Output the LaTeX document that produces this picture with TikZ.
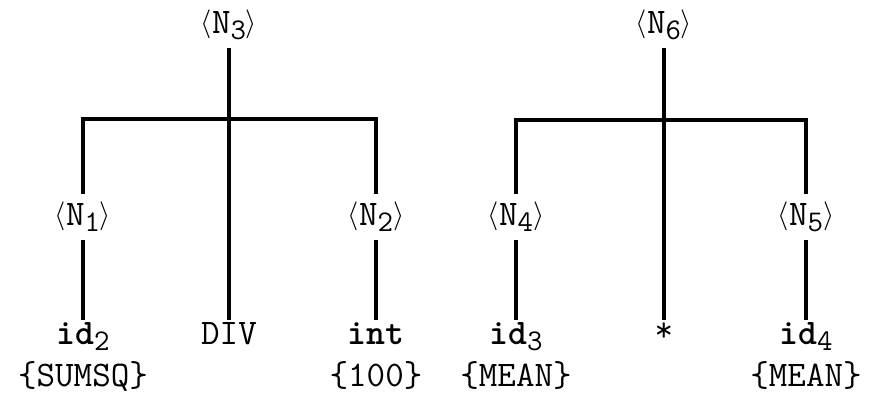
\documentclass[tikz,border=0pt]{standalone}
\newcommand{\lowidx}[1]{\raisebox{-0.4ex}{\fontsize{15}{15}\selectfont #1}}
\newcommand{\angl}[1]{\raisebox{0.1ex}{\fontsize{14}{14}\selectfont$#1$}}
\newcommand{\cat}[1]{\angl{\langle}N\lowidx{#1}\angl{\rangle}}
\begin{document}
\begin{tikzpicture}[x=0.5pt,y=-0.5pt,font=\ttfamily\fontsize{18}{21}\selectfont]
  \tikzset{
    branch/.style={line width=2pt},
    catnode/.style={inner sep=4pt},
    leaf/.style={anchor=north,align=center,inner sep=1pt}
  }
  \path[use as bounding box] (0,0) rectangle (872,396);
  % left tree
  \node[catnode] (n3) at (229,25) {\cat{3}};
  \node[catnode] (n1) at (83,217) {\cat{1}};
  \node[catnode] (n2) at (376,217) {\cat{2}};
  \node[leaf] (id2) at (83,320) {\textbf{id}\lowidx{2}\\\{SUMSQ\}};
  \node[leaf] (div) at (229,320) {DIV};
  \node[leaf] (int) at (376,320) {\textbf{int}\\\{100\}};
  \coordinate (barl) at (229,119);
  \draw[branch] (n3.south) -- (div.north);
  \draw[branch] (n1.north) -- (n1.north |- barl) -- (n2.north |- barl) -- (n2.north);
  \draw[branch] (n1.south) -- (id2.north);
  \draw[branch] (n2.south) -- (int.north);
  % right tree
  \node[catnode] (n6) at (664,25) {\cat{6}};
  \node[catnode] (n4) at (516,217) {\cat{4}};
  \node[catnode] (n5) at (806,217) {\cat{5}};
  \node[leaf] (id3) at (516,320) {\textbf{id}\lowidx{3}\\\{MEAN\}};
  \node[leaf] (mul) at (664,320) {*};
  \node[leaf] (id4) at (806,320) {\textbf{id}\lowidx{4}\\\{MEAN\}};
  \coordinate (barr) at (664,120);
  \draw[branch] (n6.south) -- (mul.north);
  \draw[branch] (n4.north) -- (n4.north |- barr) -- (n5.north |- barr) -- (n5.north);
  \draw[branch] (n4.south) -- (id3.north);
  \draw[branch] (n5.south) -- (id4.north);
\end{tikzpicture}
\end{document}
